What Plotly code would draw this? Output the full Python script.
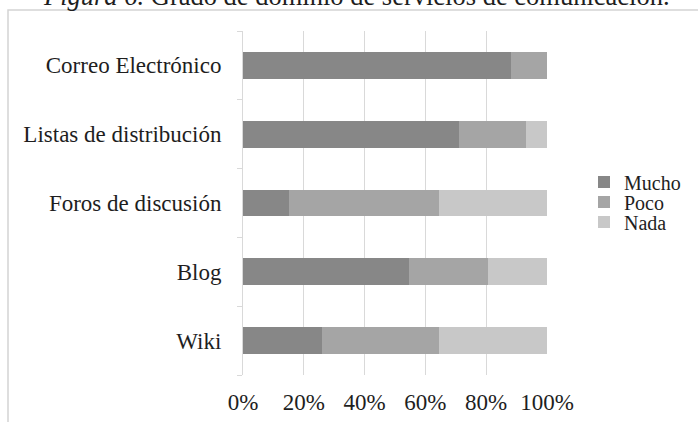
import plotly.graph_objects as go

categories = ["Correo Electrónico", "Listas de distribución", "Foros de discusión", "Blog", "Wiki"]
mucho = [0.88, 0.71, 0.15, 0.547, 0.259]
poco = [0.12, 0.222, 0.494, 0.259, 0.385]
nada = [0.0, 0.068, 0.356, 0.194, 0.356]
series_names = ["Mucho", "Poco", "Nada"]
series_colors = ["#878787", "#a5a5a5", "#c8c8c8"]
x_ticks = [0, 0.2, 0.4, 0.6, 0.8, 1.0]
x_tick_labels = ["0%", "20%", "40%", "60%", "80%", "100%"]
title_html = "<i>Figura 6.</i> Grado de dominio de servicios de comunicación."

FONT = "Liberation Serif, Times New Roman, serif"
TXT = "#1e1e1e"
W, H = 698, 422
L, R, T, B = 243, 151, 31, 47
pw, ph = W - L - R, H - T - B

fig = go.Figure()
legend_keys = ["legend", "legend2", "legend3"]
for i, (name, vals, col) in enumerate(zip(series_names, [mucho, poco, nada], series_colors)):
    fig.add_trace(go.Bar(
        y=categories, x=vals, name=name, orientation="h",
        marker=dict(color=col, line=dict(width=0)),
        legend=legend_keys[i],
    ))

def px_to_paper_x(px):
    return (px - L) / pw

def px_to_paper_y(py):
    return (H - B - py) / ph

legend_common = dict(
    font=dict(family=FONT, size=20, color=TXT),
    bgcolor="rgba(0,0,0,0)", borderwidth=0,
    xanchor="left", yanchor="middle", itemwidth=30,
)
legend_y = [182, 202, 222]
lx = px_to_paper_x(584)
layout_legends = {}
for key, yy in zip(legend_keys, legend_y):
    layout_legends[key] = dict(x=lx, y=px_to_paper_y(yy), **legend_common)

fig.update_layout(
    width=W, height=H,
    margin=dict(l=L, r=R, t=T, b=B, autoexpand=False),
    paper_bgcolor="white", plot_bgcolor="white",
    barmode="stack", bargap=0.61,
    showlegend=True,
    font=dict(family=FONT, color=TXT),
    **layout_legends,
    xaxis=dict(
        range=[0, 1], tickvals=x_ticks, ticktext=x_tick_labels,
        showgrid=True, gridcolor="#d9d9d9", gridwidth=1,
        zeroline=False, showline=False, ticks="",
        tickfont=dict(family=FONT, size=23, color=TXT),
        ticklabelstandoff=11, automargin=False,
    ),
    yaxis=dict(
        categoryorder="array", categoryarray=categories[::-1],
        showgrid=False, zeroline=False,
        showline=True, linecolor="#d9d9d9", linewidth=1,
        ticks="outside", tickson="boundaries", ticklen=5, tickcolor="#d9d9d9",
        tickfont=dict(family=FONT, size=23, color=TXT),
        ticklabelstandoff=16, automargin=False,
    ),
    shapes=[dict(
        type="rect", xref="paper", yref="paper",
        x0=px_to_paper_x(8), x1=px_to_paper_x(720),
        y0=px_to_paper_y(440), y1=px_to_paper_y(10),
        line=dict(color="#d4d4d4", width=1.5), fillcolor="rgba(0,0,0,0)", layer="below",
    )],
    annotations=[dict(
        text=title_html, xref="paper", yref="paper",
        x=px_to_paper_x(356), y=px_to_paper_y(13), xanchor="center", yanchor="bottom",
        showarrow=False, font=dict(family=FONT, size=26.5, color=TXT),
    )],
)

fig.write_html("out.html", config={"displayModeBar": False},
               post_script="document.body.style.margin='0';")
